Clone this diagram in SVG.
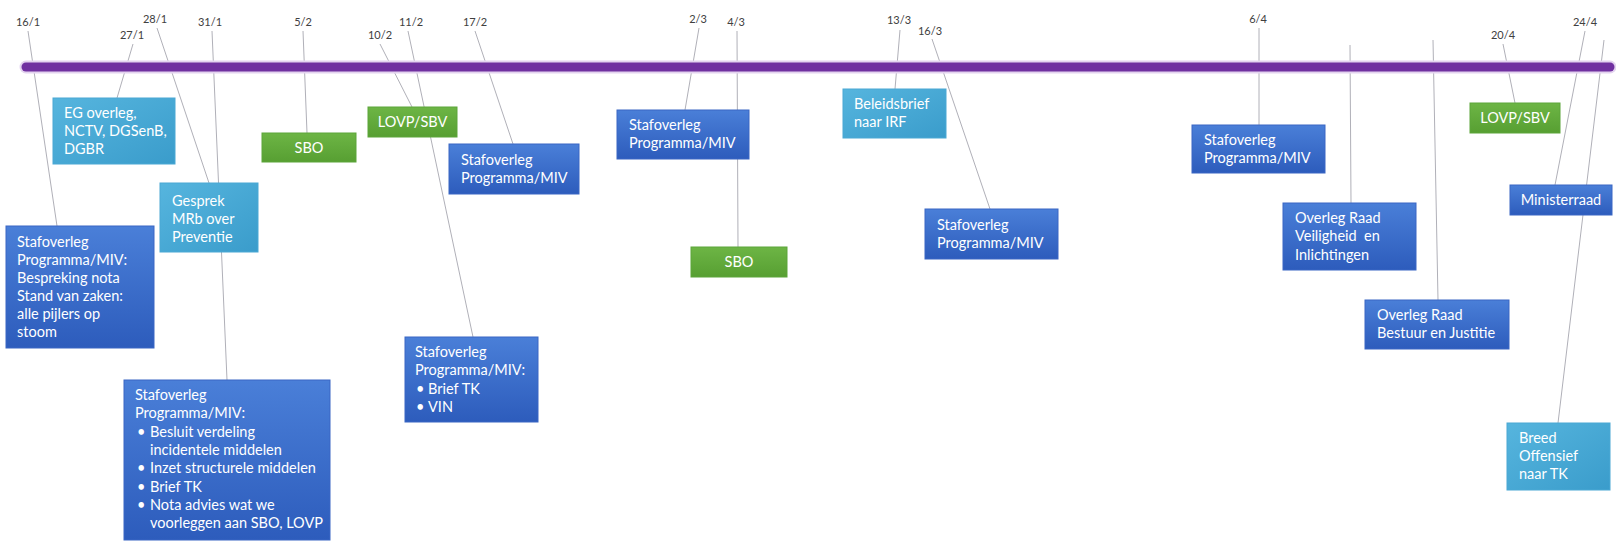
<svg xmlns="http://www.w3.org/2000/svg" width="1616" height="543" viewBox="0 0 1616 543">
<defs>
<linearGradient id="gBlue" x1="0" y1="0" x2="0" y2="1"><stop offset="0" stop-color="#4A7FD8"/><stop offset="1" stop-color="#2D5CBC"/></linearGradient>
<linearGradient id="gLight" x1="0" y1="0" x2="1" y2="1"><stop offset="0" stop-color="#56B5DE"/><stop offset="1" stop-color="#3A9CCB"/></linearGradient>
<linearGradient id="gGreen" x1="0" y1="0" x2="0" y2="1"><stop offset="0" stop-color="#6DB545"/><stop offset="1" stop-color="#579F32"/></linearGradient>
</defs>
<style>
.blue{fill:url(#gBlue);stroke:#3A67C4;stroke-width:1}
.light{fill:url(#gLight);stroke:#4AA8D4;stroke-width:1}
.green{fill:url(#gGreen);stroke:#5DA53A;stroke-width:1}
.t{font-family:Lato,"Liberation Sans",sans-serif;font-size:14.5px;fill:#FFFFFF}
.c{text-anchor:middle}
.d{font-family:Lato,"Liberation Sans",sans-serif;font-size:11px;fill:#404040;text-anchor:middle}
.ln{stroke:#B0B0B8;stroke-width:1;fill:none}
</style>
<rect width="1616" height="543" fill="#FFFFFF"/>
<g id="connectors">
<line class="ln" x1="28" y1="31" x2="57" y2="226"/>
<line class="ln" x1="133" y1="44" x2="117" y2="98"/>
<line class="ln" x1="157" y1="28" x2="209" y2="183"/>
<line class="ln" x1="212" y1="31" x2="227" y2="380"/>
<line class="ln" x1="303" y1="31" x2="307" y2="133"/>
<line class="ln" x1="380" y1="44" x2="412" y2="107"/>
<line class="ln" x1="408" y1="31" x2="473" y2="337"/>
<line class="ln" x1="475" y1="31" x2="513" y2="144"/>
<line class="ln" x1="699" y1="28" x2="685" y2="110"/>
<line class="ln" x1="737" y1="31" x2="738" y2="247"/>
<line class="ln" x1="900" y1="30" x2="895" y2="89"/>
<line class="ln" x1="932" y1="39" x2="990" y2="209"/>
<line class="ln" x1="1259" y1="28" x2="1259" y2="125"/>
<line class="ln" x1="1350" y1="45" x2="1351" y2="203"/>
<line class="ln" x1="1433" y1="40" x2="1438" y2="300"/>
<line class="ln" x1="1503" y1="44" x2="1515" y2="103"/>
<line class="ln" x1="1585" y1="31" x2="1555" y2="185"/>
<line class="ln" x1="1604" y1="40" x2="1558" y2="423"/>
</g>
<g id="timeline">
<line x1="26" y1="67" x2="1610" y2="67" stroke="#E3D3EF" stroke-width="13" stroke-linecap="round"/>
<line x1="26" y1="67" x2="1610" y2="67" stroke="#7030A0" stroke-width="9" stroke-linecap="round"/>
</g>
<g id="dates">
<text class="d" x="28" y="26">16/1</text>
<text class="d" x="132" y="39">27/1</text>
<text class="d" x="155" y="23">28/1</text>
<text class="d" x="210" y="26">31/1</text>
<text class="d" x="303" y="26">5/2</text>
<text class="d" x="380" y="39">10/2</text>
<text class="d" x="411" y="26">11/2</text>
<text class="d" x="475" y="26">17/2</text>
<text class="d" x="698" y="23">2/3</text>
<text class="d" x="736" y="26">4/3</text>
<text class="d" x="899" y="24">13/3</text>
<text class="d" x="930" y="35">16/3</text>
<text class="d" x="1258" y="23">6/4</text>
<text class="d" x="1503" y="39">20/4</text>
<text class="d" x="1585" y="26">24/4</text>
</g>
<g id="n16_1">
<rect class="blue" x="6" y="226" width="148" height="122"/>
<text class="t" x="17" y="247">Stafoverleg<tspan x="17" dy="18">Programma/MIV:</tspan><tspan x="17" dy="18">Bespreking nota</tspan><tspan x="17" dy="18">Stand van zaken:</tspan><tspan x="17" dy="18">alle pijlers op</tspan><tspan x="17" dy="18">stoom</tspan></text>
</g>
<g id="n27_1">
<rect class="light" x="53" y="98" width="122" height="66"/>
<text class="t" x="64" y="118">EG overleg,<tspan x="64" dy="18">NCTV, DGSenB,</tspan><tspan x="64" dy="18">DGBR</tspan></text>
</g>
<g id="n28_1">
<rect class="light" x="160" y="183" width="98" height="69"/>
<text class="t" x="172" y="206">Gesprek<tspan x="172" dy="18">MRb over</tspan><tspan x="172" dy="18">Preventie</tspan></text>
</g>
<g id="n31_1">
<rect class="blue" x="124" y="380" width="206" height="160"/>
<text class="t" x="135" y="400">Stafoverleg<tspan x="135" dy="18.3">Programma/MIV:</tspan><tspan x="137" dy="18.3">•</tspan><tspan x="150" dy="0">Besluit verdeling</tspan><tspan x="150" dy="18.3">incidentele middelen</tspan><tspan x="137" dy="18.3">•</tspan><tspan x="150" dy="0">Inzet structurele middelen</tspan><tspan x="137" dy="18.3">•</tspan><tspan x="150" dy="0">Brief TK</tspan><tspan x="137" dy="18.3">•</tspan><tspan x="150" dy="0">Nota advies wat we</tspan><tspan x="150" dy="18.3">voorleggen aan SBO, LOVP</tspan></text>
</g>
<g id="n5_2">
<rect class="green" x="262" y="133" width="94" height="29"/>
<text class="t c" x="309" y="152.5">SBO</text>
</g>
<g id="n10_2">
<rect class="green" x="368" y="107" width="89" height="30"/>
<text class="t c" x="412.5" y="127">LOVP/SBV</text>
</g>
<g id="n11_2">
<rect class="blue" x="405" y="337" width="133" height="85"/>
<text class="t" x="415" y="357">Stafoverleg<tspan x="415" dy="18.3">Programma/MIV:</tspan><tspan x="416" dy="18.3">•</tspan><tspan x="428" dy="0">Brief TK</tspan><tspan x="416" dy="18.3">•</tspan><tspan x="428" dy="0">VIN</tspan></text>
</g>
<g id="n17_2">
<rect class="blue" x="449" y="144" width="130" height="50"/>
<text class="t" x="461" y="165">Stafoverleg<tspan x="461" dy="18">Programma/MIV</tspan></text>
</g>
<g id="n2_3">
<rect class="blue" x="617" y="110" width="132" height="49"/>
<text class="t" x="629" y="130">Stafoverleg<tspan x="629" dy="18">Programma/MIV</tspan></text>
</g>
<g id="n4_3">
<rect class="green" x="691" y="247" width="96" height="30"/>
<text class="t c" x="739" y="267">SBO</text>
</g>
<g id="n13_3">
<rect class="light" x="843" y="89" width="103" height="49"/>
<text class="t" x="854" y="109">Beleidsbrief<tspan x="854" dy="18">naar IRF</tspan></text>
</g>
<g id="n16_3">
<rect class="blue" x="925" y="209" width="133" height="50"/>
<text class="t" x="937" y="230">Stafoverleg<tspan x="937" dy="18">Programma/MIV</tspan></text>
</g>
<g id="n6_4">
<rect class="blue" x="1192" y="125" width="133" height="48"/>
<text class="t" x="1204" y="145">Stafoverleg<tspan x="1204" dy="18">Programma/MIV</tspan></text>
</g>
<g id="nRVI">
<rect class="blue" x="1283" y="203" width="133" height="67"/>
<text class="t" x="1295" y="223" xml:space="preserve">Overleg Raad<tspan x="1295" dy="18.3">Veiligheid  en</tspan><tspan x="1295" dy="18.3">Inlichtingen</tspan></text>
</g>
<g id="nRBJ">
<rect class="blue" x="1365" y="300" width="144" height="49"/>
<text class="t" x="1377" y="320">Overleg Raad<tspan x="1377" dy="18">Bestuur en Justitie</tspan></text>
</g>
<g id="n20_4">
<rect class="green" x="1470" y="103" width="90" height="30"/>
<text class="t c" x="1515" y="123">LOVP/SBV</text>
</g>
<g id="nMR">
<rect class="blue" x="1510" y="185" width="102" height="30"/>
<text class="t c" x="1561" y="205">Ministerraad</text>
</g>
<g id="nBO">
<rect class="light" x="1507" y="423" width="103" height="67"/>
<text class="t" x="1519" y="443">Breed<tspan x="1519" dy="18">Offensief</tspan><tspan x="1519" dy="18">naar TK</tspan></text>
</g>
</svg>
